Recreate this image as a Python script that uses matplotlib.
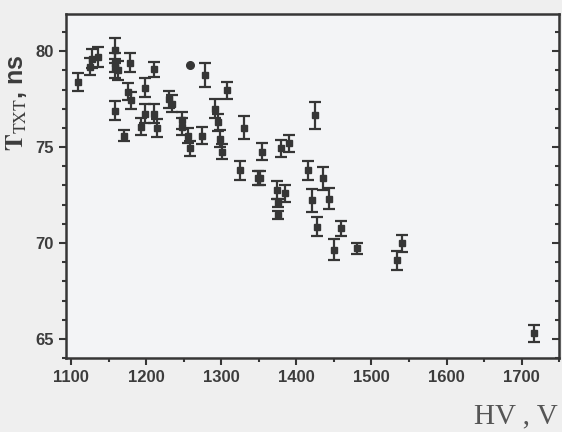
import matplotlib
matplotlib.use('Agg')
import matplotlib.pyplot as plt
import numpy as np
from matplotlib.ticker import MultipleLocator

# HV (V), T_TXT (ns), error (ns)
hv = [1109, 1125, 1128, 1136, 1158, 1159, 1158, 1163, 1179, 1176,
      1180, 1158, 1170, 1199, 1210, 1198, 1210, 1193, 1214, 1230,
      1234, 1248, 1248, 1256, 1259, 1274, 1259, 1279, 1308, 1292,
      1296, 1299, 1301, 1330, 1325, 1349, 1352, 1354, 1379, 1390,
      1374, 1385, 1376, 1375, 1425, 1416, 1436, 1421, 1443, 1428,
      1459, 1450, 1481, 1534, 1541, 1716]
t_txt = [78.4, 79.2, 79.6, 79.7, 80.05, 79.4, 79.1, 79.0, 79.4, 77.9,
         77.45, 76.9, 75.6, 78.1, 79.06, 76.75, 76.75, 76.06, 76.0, 77.5,
         77.27, 76.4, 76.06, 75.6, 74.93, 75.6, 79.3, 78.75, 77.97, 77.0,
         76.3, 75.45, 74.76, 76.0, 73.8, 73.4, 73.4, 74.76, 74.93, 75.2,
         72.76, 72.6, 72.07, 71.46, 76.67, 73.8, 73.37, 72.24, 72.32, 70.85,
         70.77, 69.64, 69.72, 69.1, 69.98, 65.3]
t_err = [0.45, 0.45, 0.5, 0.5, 0.65, 0.5, 0.5, 0.5, 0.5, 0.45,
         0.45, 0.5, 0.3, 0.5, 0.4, 0.5, 0.5, 0.45, 0.45, 0.45,
         0.45, 0.45, 0.45, 0.4, 0.4, 0.45, 0.0, 0.62, 0.45, 0.5,
         0.45, 0.45, 0.4, 0.6, 0.5, 0.35, 0.35, 0.45, 0.45, 0.45,
         0.45, 0.45, 0.2, 0.2, 0.7, 0.5, 0.6, 0.6, 0.55, 0.5,
         0.4, 0.55, 0.3, 0.5, 0.45, 0.45]

ink = '#363636'
plt.rcParams['mathtext.fontset'] = 'stix'

x = np.array(hv)
y = np.array(t_txt)
e = np.array(t_err)
has_err = e > 0

fig = plt.figure(figsize=(5.62, 4.32), dpi=100, facecolor='#efefef')
ax = fig.add_axes([0.117, 0.171, 0.878, 0.797])
ax.set_facecolor('#f3f4f6')

ax.errorbar(x[has_err], y[has_err], yerr=e[has_err], fmt='s', color=ink, ms=5,
            elinewidth=1.6, capsize=4, capthick=1.6)
# point printed without an error bar
ax.plot(x[~has_err], y[~has_err], 'o', color=ink, ms=5.5)

ax.set_xlim(1093, 1750)
ax.set_ylim(64.0, 81.95)
ax.xaxis.set_major_locator(MultipleLocator(100))
ax.xaxis.set_minor_locator(MultipleLocator(50))
ax.yaxis.set_major_locator(MultipleLocator(5))
ax.yaxis.set_minor_locator(MultipleLocator(1))

for s in ax.spines.values():
    s.set_color(ink)
    s.set_linewidth(1.8)

ax.tick_params(which='both', direction='out', color=ink, width=1.5)
ax.tick_params(which='major', length=5)
ax.tick_params(which='minor', length=3)
for lab in ax.get_xticklabels() + ax.get_yticklabels():
    lab.set_fontfamily('Liberation Sans')
    lab.set_fontweight('bold')
    lab.set_fontsize(12)
    lab.set_color('#3c3c3c')

# inward ticks on the right frame
rax = ax.secondary_yaxis('right')
rax.yaxis.set_major_locator(MultipleLocator(5))
rax.yaxis.set_minor_locator(MultipleLocator(1))
rax.tick_params(which='both', direction='in', color=ink, width=1.5, labelright=False)
rax.tick_params(which='major', length=5)
rax.tick_params(which='minor', length=3)

ax.set_ylabel(r'$\mathbf{T}_{\mathrm{TXT}}$, ns', fontsize=18,
              fontfamily='Liberation Sans', fontweight='bold', color='#3c3c3c')
ax.yaxis.set_label_coords(-0.075, 0.74)

fig.text(0.993, 0.005, 'HV , V', fontsize=21, fontfamily='Liberation Serif',
         color='#555555', ha='right', va='bottom')

fig.savefig('out.png', dpi=100, facecolor=fig.get_facecolor())
